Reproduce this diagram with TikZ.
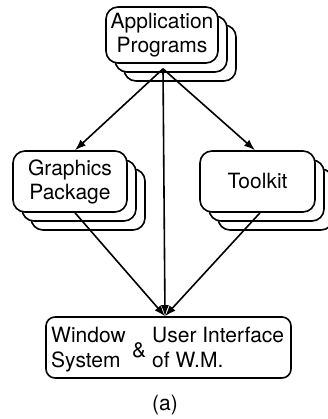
\documentclass[tikz,border=0pt]{standalone}
\usepackage{fontspec}
\setmainfont{TeX Gyre Heros}
\usetikzlibrary{shadows,arrows.meta}
\tikzset{
  card/.style={draw=black, fill=white, line width=1.6pt, rounded corners=12pt,
    align=center, inner sep=0pt,
    font=\fontsize{21}{24}\selectfont},
  stack/.style={card, double copy shadow={shadow xshift=9pt, shadow yshift=-9pt, draw=black, fill=white, line width=1.6pt}},
  lbl/.style={inner sep=0pt, font=\fontsize{21}{24}\selectfont},
  link/.style={line width=1.6pt, -{Latex[length=11pt,width=8pt]}}
}
\begin{document}
\begin{tikzpicture}[x=1pt,y=-1pt]
\path[use as bounding box] (0,0) rectangle (327,419);
\node[stack, minimum width=112pt, minimum height=56pt] (app) at (162,35) {Application\\Programs};
\node[stack, minimum width=114pt, minimum height=61pt] (gp) at (70,181.5) {Graphics\\Package};
\node[stack, minimum width=115pt, minimum height=61pt] (tk) at (257.5,181.5) {Toolkit};
\node[card, rounded corners=9pt, minimum width=245pt, minimum height=61pt] (wm) at (168.5,347.5) {};
\node[lbl, anchor=base west] (wa) at (51,342) {Window};
\node[lbl, anchor=base west] (wb) at (51,367) {System};
\node[lbl, anchor=base west] (amp) at (132,357) {\&};
\node[lbl, anchor=base west] (ua) at (152,342) {User Interface};
\node[lbl, anchor=base west] (ub) at (152,367) {of W.M.};
\node[lbl] (cap) at (165,405) {(a)};
\coordinate (apex) at ([shift={(1pt,-5pt)}]app.south);
\coordinate (wmtop) at ([xshift=-3.5pt]wm.north);
\draw[link] (apex) -- ([xshift=5pt]gp.north);
\draw[link] (apex) -- ([xshift=-2.5pt]tk.north);
\draw[link] (apex) -- (wmtop);
\draw[link] ([xshift=5pt]gp.south) -- (wmtop);
\draw[link] ([xshift=2.5pt]tk.south) -- (wmtop);
\end{tikzpicture}
\end{document}
